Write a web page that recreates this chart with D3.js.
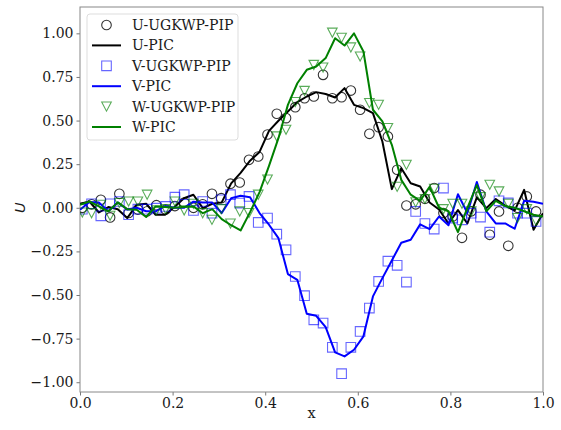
<!DOCTYPE html>
<html>
<head>
<meta charset="utf-8">
<script src="https://cdn.jsdelivr.net/npm/d3@7"></script>
<style>
  body { margin: 0; background: #fff; }
  svg { display: block; }
  text { font-family: "DejaVu Serif", serif; fill: #1a1a1a; }
</style>
</head>
<body>
<div id="chart"></div>
<script>
// sample positions
const xPip = [0.005, 0.025, 0.045, 0.065, 0.085, 0.105, 0.125, 0.145, 0.165, 0.185,
  0.205, 0.225, 0.245, 0.265, 0.285, 0.305, 0.325, 0.345, 0.365, 0.385,
  0.405, 0.425, 0.445, 0.465, 0.485, 0.505, 0.525, 0.545, 0.565, 0.585,
  0.605, 0.625, 0.645, 0.665, 0.685, 0.705, 0.725, 0.745, 0.765, 0.785,
  0.805, 0.825, 0.845, 0.865, 0.885, 0.905, 0.925, 0.945, 0.965, 0.985];
const xPic = [0, 0.0204, 0.0408, 0.0612, 0.0816, 0.1020, 0.1224, 0.1429, 0.1633, 0.1837,
  0.2041, 0.2245, 0.2449, 0.2653, 0.2857, 0.3061, 0.3265, 0.3469, 0.3673, 0.3878,
  0.4082, 0.4286, 0.4490, 0.4694, 0.4898, 0.5102, 0.5306, 0.5510, 0.5714, 0.5918,
  0.6122, 0.6327, 0.6531, 0.6735, 0.6939, 0.7143, 0.7347, 0.7551, 0.7755, 0.7959,
  0.8163, 0.8367, 0.8571, 0.8776, 0.8980, 0.9184, 0.9388, 0.9592, 0.9796, 1.0];

// UGKWP-PIP markers
const uPip = [0.0, 0.02, 0.046, -0.055, 0.08, -0.03, -0.01, -0.02, 0.015, -0.01,
  0.01, 0.03, 0.0, 0.02, 0.08, 0.055, 0.138, 0.145, 0.275, 0.294,
  0.42, 0.539, 0.514, 0.577, 0.628, 0.638, 0.762, 0.628, 0.634, 0.672,
  0.562, 0.424, 0.462, 0.409, 0.218, 0.013, 0.02, 0.052, 0.113, -0.03,
  -0.05, -0.172, -0.02, 0.075, -0.155, -0.021, -0.218, 0.0, 0.065, -0.021];
const vPip = [-0.008, 0.023, -0.046, 0.023, 0.036, -0.04, -0.008, -0.008, -0.002, 0.008,
  0.061, 0.075, -0.015, 0.036, -0.031, 0.046, 0.075, 0.027, 0.065, -0.084,
  -0.059, -0.151, -0.241, -0.394, -0.504, -0.642, -0.661, -0.8, -0.951, -0.8,
  -0.709, -0.575, -0.422, -0.306, -0.33, -0.426, -0.021, -0.09, -0.122, 0.113,
  -0.059, -0.069, -0.031, -0.053, -0.14, 0.04, 0.028, -0.031, -0.031, -0.078];
const wPip = [-0.027, -0.031, 0.017, -0.046, 0.027, 0.036, 0.036, 0.075, -0.015, -0.008,
  0.036, -0.015, 0.023, -0.031, -0.069, -0.008, -0.09, -0.021, -0.03, 0.075,
  0.162, 0.409, 0.447, 0.606, 0.67, 0.819, 0.804, 1.004, 0.974, 0.919,
  0.867, 0.6, 0.59, 0.457, 0.12, 0.246, 0.031, 0.05, 0.109, -0.008,
  0.023, 0.023, -0.021, 0.061, 0.132, 0.094, 0.023, -0.059, -0.008, -0.075];

// PIC lines
const uPic = [0.023, 0.036, -0.027, 0.004, -0.008, -0.059, 0.017, 0.023, -0.04, -0.04,
  0.004, 0.055, 0.075, -0.002, 0.023, 0.031, 0.14, 0.2, 0.27, 0.32,
  0.441, 0.499, 0.552, 0.606, 0.638, 0.663, 0.652, 0.632, 0.686, 0.59,
  0.571, 0.543, 0.38, 0.107, 0.227, 0.141, 0.122, 0.03, -0.01, -0.09,
  -0.013, -0.09, 0.06, -0.002, 0.05, 0.012, -0.016, 0.103, -0.126, -0.031];
const vPic = [-0.011, 0.033, 0.03, -0.02, 0.03, -0.01, 0.0, -0.02, -0.02, 0.01,
  0.0, 0.0, 0.035, 0.03, 0.03, -0.03, 0.055, 0.069, 0.061, -0.03,
  -0.097, -0.174, -0.38, -0.413, -0.607, -0.619, -0.684, -0.829, -0.852, -0.814,
  -0.737, -0.508, -0.403, -0.302, -0.2, -0.183, -0.095, -0.122, -0.05, -0.1,
  0.078, -0.03, 0.148, -0.02, -0.09, -0.09, -0.12, 0.04, 0.035, 0.023];
const wPic = [0.017, 0.036, 0.008, -0.02, 0.031, -0.008, -0.011, -0.053, 0.008, 0.004,
  0.0, 0.004, 0.008, -0.031, -0.008, -0.065, -0.1, -0.13, -0.025, 0.09,
  0.24, 0.399, 0.59, 0.714, 0.791, 0.81, 0.858, 0.972, 0.93, 1.0,
  0.896, 0.562, 0.495, 0.361, 0.16, 0.075, 0.04, 0.12, 0.0, -0.02,
  -0.14, 0.0, 0.13, -0.02, 0.04, 0.01, 0.0, -0.02, -0.04, -0.05];

const xTicks = [0, 0.2, 0.4, 0.6, 0.8, 1.0];
const yTicks = [-1, -0.75, -0.5, -0.25, 0, 0.25, 0.5, 0.75, 1.0];

const width = 561, height = 430;
const margin = { left: 80, right: 18, top: 7, bottom: 38 };

const svg = d3.select('#chart').append('svg')
  .attr('width', width)
  .attr('height', height);

const x = d3.scaleLinear().domain([0, 1]).range([margin.left, width - margin.right]);
const y = d3.scaleLinear().domain([-1.056, 1.151]).range([height - margin.bottom, margin.top]);

const minus = s => s.replace('-', '\u2212');

// axes
const xAxis = svg.append('g')
  .attr('transform', 'translate(0,' + (height - margin.bottom) + ')')
  .call(d3.axisBottom(x).tickValues(xTicks).tickSizeOuter(0).tickSize(3.5).tickPadding(3)
    .tickFormat(d => d3.format('.1f')(d)));
const yAxis = svg.append('g')
  .attr('transform', 'translate(' + margin.left + ',0)')
  .call(d3.axisLeft(y).tickValues(yTicks).tickSizeOuter(0).tickSize(3.5).tickPadding(3)
    .tickFormat(d => minus(d3.format('.2f')(d))));

[xAxis, yAxis].forEach(a => {
  a.select('.domain').remove();
  a.selectAll('.tick line').attr('stroke', '#555').attr('stroke-width', 0.8);
  a.selectAll('.tick text').style('font-size', '14px').attr('fill', '#1a1a1a');
});

// frame
svg.append('rect')
  .attr('x', x(0)).attr('y', margin.top)
  .attr('width', x(1) - x(0)).attr('height', height - margin.bottom - margin.top)
  .attr('fill', 'none').attr('stroke', '#888').attr('stroke-width', 1);

svg.append('text')
  .attr('x', (x(0) + x(1)) / 2).attr('y', 418)
  .attr('text-anchor', 'middle')
  .style('font-size', '14.5px')
  .text('x');

svg.append('text')
  .attr('transform', 'translate(25,' + y(0) + ') rotate(-90)')
  .attr('text-anchor', 'middle')
  .style('font-family', '"DejaVu Sans", sans-serif')
  .style('font-style', 'italic')
  .style('font-size', '14.5px')
  .text('U');

const plot = svg.append('g');
plot.append('clipPath').attr('id', 'clip').append('rect')
  .attr('x', x(0)).attr('y', margin.top)
  .attr('width', x(1) - x(0)).attr('height', height - margin.bottom - margin.top);

const line = d3.line().x((d, i) => x(xPic[i])).y(d => y(d));

const tri = r => 'M' + (-r) + ',' + (-r * 0.95) + 'L' + r + ',' + (-r * 0.95) + 'L0,' + (r * 0.95) + 'Z';
const sq = r => 'M' + (-r) + ',' + (-r) + 'h' + (2 * r) + 'v' + (2 * r) + 'h' + (-2 * r) + 'Z';

const series = [
  { name: 'U-UGKWP-PIP', vals: uPip, kind: 'circle', color: '#000', op: 0.8 },
  { name: 'U-PIC', vals: uPic, kind: 'line', color: '#000' },
  { name: 'V-UGKWP-PIP', vals: vPip, kind: 'square', color: '#0000ff', op: 0.6 },
  { name: 'V-PIC', vals: vPic, kind: 'line', color: '#0000ff' },
  { name: 'W-UGKWP-PIP', vals: wPip, kind: 'tri', color: '#008000', op: 0.65 },
  { name: 'W-PIC', vals: wPic, kind: 'line', color: '#008000' }
];

function markerPath(kind) {
  if (kind === 'circle') return d3.symbol(d3.symbolCircle, Math.PI * 4.8 * 4.8)();
  if (kind === 'square') return sq(4.8);
  return tri(4.8);
}

series.forEach(s => {
  const g = plot.append('g').attr('clip-path', 'url(#clip)');
  if (s.kind === 'line') {
    g.append('path').datum(s.vals)
      .attr('d', line)
      .attr('fill', 'none')
      .attr('stroke', s.color)
      .attr('stroke-width', 2)
      .attr('stroke-linejoin', 'round');
  } else {
    g.selectAll('path').data(s.vals).join('path')
      .attr('transform', (d, i) => 'translate(' + x(xPip[i]) + ',' + y(d) + ')')
      .attr('d', markerPath(s.kind))
      .attr('fill', 'none')
      .attr('stroke', s.color)
      .attr('stroke-opacity', s.op)
      .attr('stroke-width', 1.1);
  }
});

// legend
const lg = svg.append('g').attr('transform', 'translate(87,14)');
lg.append('rect')
  .attr('width', 151).attr('height', 126).attr('rx', 3)
  .attr('fill', '#fff').attr('fill-opacity', 0.85)
  .attr('stroke', '#ddd').attr('stroke-width', 1);

series.forEach((s, i) => {
  const row = lg.append('g').attr('transform', 'translate(0,' + (11 + i * 20.4) + ')');
  if (s.kind === 'line') {
    row.append('line').attr('x1', 5).attr('x2', 34).attr('y1', 0).attr('y2', 0)
      .attr('stroke', s.color).attr('stroke-width', 2);
  } else {
    row.append('path').attr('transform', 'translate(19.5,0)')
      .attr('d', markerPath(s.kind))
      .attr('fill', 'none').attr('stroke', s.color)
      .attr('stroke-opacity', s.op).attr('stroke-width', 1.1);
  }
  row.append('text').attr('x', 45).attr('y', 0).attr('dy', '0.35em')
    .style('font-size', '14px')
    .text(s.name);
});
</script>
</body>
</html>
